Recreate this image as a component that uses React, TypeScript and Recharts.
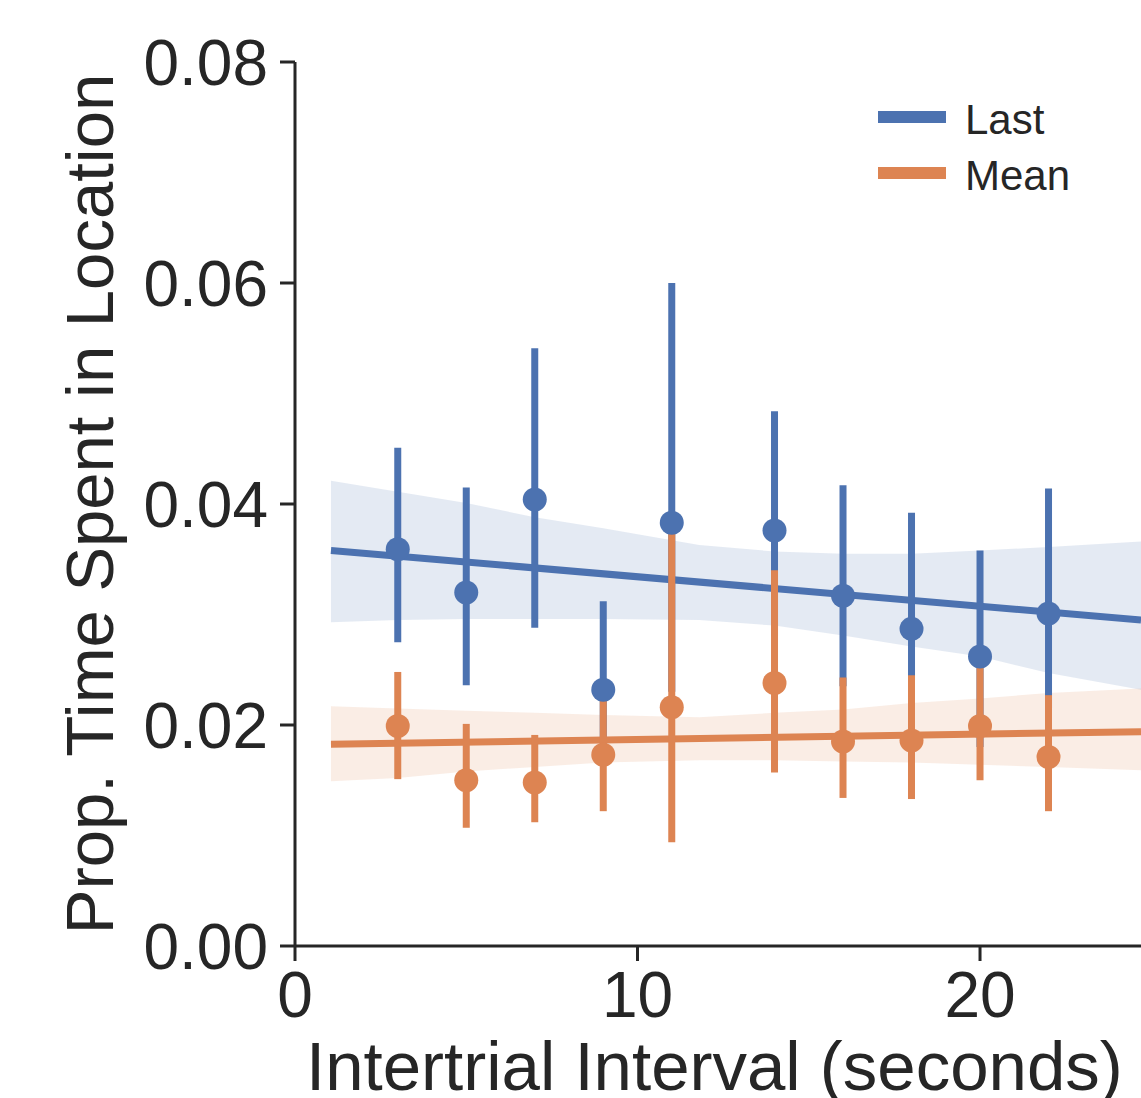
import {
  Area,
  ComposedChart,
  ErrorBar,
  Legend,
  Line,
  Scatter,
  XAxis,
  YAxis,
} from "recharts";

const BLUE = "#4c72b0";
const ORANGE = "#dd8452";
const INK = "#262626";
const FONT = '"Liberation Sans", Arial, sans-serif';

// binned points (x = intertrial interval, seconds)
const binX = [3, 5, 7, 9, 11, 14, 16, 18, 20, 22];
const lastValue = [0.0359, 0.032, 0.0404, 0.0232, 0.0383, 0.0376, 0.0317, 0.0287, 0.0262, 0.0301];
const lastLow = [0.0275, 0.0236, 0.0288, 0.017, 0.023, 0.028, 0.0235, 0.024, 0.018, 0.0215];
const lastHigh = [0.0451, 0.0415, 0.0541, 0.0312, 0.06, 0.0484, 0.0417, 0.0392, 0.0358, 0.0414];
const meanValue = [0.0199, 0.015, 0.0148, 0.0173, 0.0216, 0.0238, 0.0185, 0.0186, 0.0199, 0.0171];
const meanLow = [0.0151, 0.0107, 0.0112, 0.0122, 0.0094, 0.0157, 0.0134, 0.0133, 0.015, 0.0122];
const meanHigh = [0.0248, 0.0201, 0.0191, 0.0228, 0.0393, 0.034, 0.0243, 0.0245, 0.0257, 0.0227];

// regression fit
const fitX = [1.05, 24.7];
const lastFit = [0.0358, 0.0295];
const meanFit = [0.01825, 0.0194];

// confidence bands
const bandX = [1.05, 3, 5, 7, 9, 11.8, 14, 16, 18, 20, 22, 24.7];
const lastBandLow = [0.0293, 0.0295, 0.0296, 0.0296, 0.0296, 0.0295, 0.029, 0.0281, 0.0271, 0.0262, 0.0247, 0.0232];
const lastBandHigh = [0.0421, 0.0411, 0.0401, 0.0388, 0.0378, 0.0363, 0.0357, 0.0355, 0.0355, 0.0358, 0.0361, 0.0366];
const meanBandLow = [0.0149, 0.0152, 0.0158, 0.0162, 0.0166, 0.0168, 0.0168, 0.0167, 0.0166, 0.0164, 0.0162, 0.0159];
const meanBandHigh = [0.0217, 0.0215, 0.0213, 0.0211, 0.0209, 0.0207, 0.0211, 0.0214, 0.022, 0.0224, 0.0229, 0.0233];

const xTicks = [0, 10, 20];
const yTicks = [0, 0.02, 0.04, 0.06, 0.08];

const points = (values: number[], low: number[], high: number[]) =>
  binX.map((x, i) => ({ x, y: values[i], err: [values[i] - low[i], high[i] - values[i]] }));
const band = (low: number[], high: number[]) => bandX.map((x, i) => ({ x, range: [low[i], high[i]] }));
const fit = (values: number[]) => fitX.map((x, i) => ({ x, y: values[i] }));

const lastPoints = points(lastValue, lastLow, lastHigh);
const meanPoints = points(meanValue, meanLow, meanHigh);

function dot(color: string) {
  return (props: any) => <circle cx={props.cx} cy={props.cy} r={12} fill={color} />;
}

function YTitle({ viewBox }: any) {
  const cy = viewBox.y + viewBox.height / 2;
  return (
    <text
      x={113}
      y={cy}
      transform={`rotate(-90 113 ${cy})`}
      textAnchor="middle"
      fill={INK}
      fontSize={67}
      fontFamily={FONT}
    >
      Prop.  Time Spent in Location
    </text>
  );
}

function XTitle() {
  return (
    <text x={306} y={1090} textAnchor="start" fill={INK} fontSize={69} fontFamily={FONT}>
      Intertrial Interval (seconds)
    </text>
  );
}

function LegendBox({ payload }: any) {
  const seen = new Set<string>();
  const items = (payload || []).filter((p: any) => {
    if (p.type === "none" || seen.has(p.value)) return false;
    seen.add(p.value);
    return true;
  });
  return (
    <div style={{ fontFamily: FONT, color: INK }}>
      {items.map((p: any) => (
        <div key={p.value} style={{ display: "flex", alignItems: "center", height: 56 }}>
          <div style={{ width: 68, height: 12, background: p.color }} />
          <span style={{ marginLeft: 19, fontSize: 42, position: "relative", top: 3 }}>{p.value}</span>
        </div>
      ))}
    </div>
  );
}

export default function App() {
  return (
    <div style={{ position: "absolute", left: 0, top: 0, background: "#fff" }}>
      <ComposedChart width={1141} height={1098} margin={{ top: 62, right: 0, bottom: 0, left: 0 }}>
        <XAxis
          dataKey="x"
          type="number"
          domain={[0, 24.7]}
          ticks={xTicks}
          allowDataOverflow
          height={152}
          stroke={INK}
          strokeWidth={3}
          tickSize={15}
          tickMargin={11}
          tick={{ fill: INK, fontSize: 64, fontFamily: FONT }}
          label={<XTitle />}
        />
        <YAxis
          type="number"
          domain={[0, 0.08]}
          ticks={yTicks}
          width={295}
          stroke={INK}
          strokeWidth={3}
          tickSize={15}
          tickMargin={12}
          tickFormatter={(v: number) => v.toFixed(2)}
          tick={{ fill: INK, fontSize: 64, fontFamily: FONT }}
          label={<YTitle />}
        />
        <Legend
          layout="horizontal"
          verticalAlign="middle"
          align="center"
          wrapperStyle={{ position: "absolute", left: 878, top: 89, width: 260 }}
          content={<LegendBox />}
        />

        <Area
          data={band(lastBandLow, lastBandHigh)}
          dataKey="range"
          type="linear"
          stroke="none"
          fill={BLUE}
          fillOpacity={0.15}
          legendType="none"
          isAnimationActive={false}
        />
        <Line
          data={fit(lastFit)}
          dataKey="y"
          name="Last"
          type="linear"
          stroke={BLUE}
          strokeWidth={7}
          dot={false}
          activeDot={false}
          isAnimationActive={false}
        />
        <Scatter data={lastPoints} dataKey="y" fill={BLUE} shape={dot(BLUE)} legendType="none" isAnimationActive={false}>
          <ErrorBar dataKey="err" direction="y" width={0} stroke={BLUE} strokeWidth={7} isAnimationActive={false} />
        </Scatter>

        <Area
          data={band(meanBandLow, meanBandHigh)}
          dataKey="range"
          type="linear"
          stroke="none"
          fill={ORANGE}
          fillOpacity={0.15}
          legendType="none"
          isAnimationActive={false}
        />
        <Line
          data={fit(meanFit)}
          dataKey="y"
          name="Mean"
          type="linear"
          stroke={ORANGE}
          strokeWidth={7}
          dot={false}
          activeDot={false}
          isAnimationActive={false}
        />
        <Scatter data={meanPoints} dataKey="y" fill={ORANGE} shape={dot(ORANGE)} legendType="none" isAnimationActive={false}>
          <ErrorBar dataKey="err" direction="y" width={0} stroke={ORANGE} strokeWidth={7} isAnimationActive={false} />
        </Scatter>
      </ComposedChart>
    </div>
  );
}
